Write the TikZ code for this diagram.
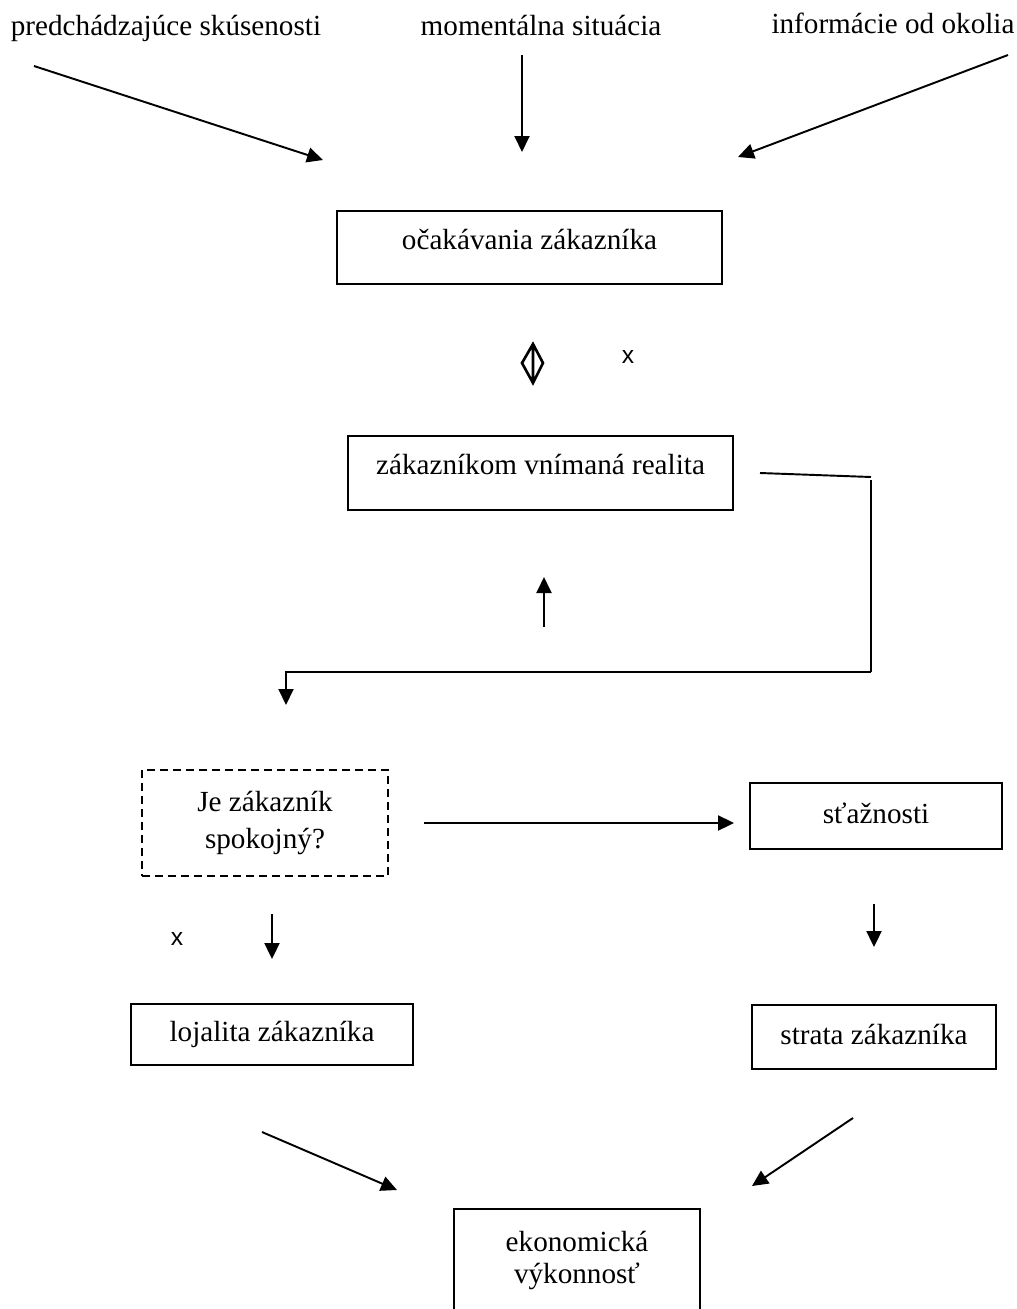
\documentclass[tikz,border=0pt]{standalone}
\usepackage{fontspec}
\setmainfont{Liberation Serif}
\newfontfamily\xfont{Liberation Sans}
\usetikzlibrary{arrows.meta}

\begin{document}
\begin{tikzpicture}[x=0.02cm, y=-0.02cm, line width=1.1pt,
    font=\fontsize{16.6}{19}\selectfont,
    box/.style={draw, inner sep=0pt, text height=11pt, text depth=3pt},
    topbox/.style={box, text depth=9pt},
    twoline/.style={draw, inner sep=0pt, align=center},
    arr/.style={-{Triangle[length=0.32cm, width=0.3cm]}},
    xmark/.style={font=\xfont\fontsize{14}{16}\selectfont}]
\useasboundingbox (0,0) rectangle (1017,1309);
\clip (0,0) rectangle (1017,1309);

% Sources
\node[anchor=base] (pred) at (166,35) {predchádzajúce skúsenosti};
\node[anchor=base] (mom) at (541,35) {momentálna situácia};
\node[anchor=base] (info) at (893,33) {informácie od okolia};

% Boxes
\node[topbox, minimum width=7.7cm, minimum height=1.46cm] (ocak) at (529.5,247.5) {očakávania zákazníka};
\node[topbox, minimum width=7.7cm, minimum height=1.48cm] (real) at (540.5,473) {zákazníkom vnímaná realita};
\node[twoline, dash pattern=on 0.16cm off 0.1cm, minimum width=4.92cm, minimum height=2.12cm] (je) at (265,823) {Je zákazník\\[2pt]spokojný?};
\node[box, minimum width=5.04cm, minimum height=1.32cm] (staz) at (876,816) {sťažnosti};
\node[box, minimum width=5.64cm, minimum height=1.22cm] (loj) at (272,1034.5) {lojalita zákazníka};
\node[box, minimum width=4.88cm, minimum height=1.28cm] (strata) at (874,1037) {strata zákazníka};
\node[twoline, anchor=north, minimum width=4.92cm, minimum height=2.06cm] (ekon) at (577,1208) {ekonomická\\[-1pt]výkonnosť};

% Inputs
\coordinate (p1) at (34,66);
\coordinate (p2) at (323,160);
\coordinate (m1) at (522,55);
\coordinate (m2) at (522,152);
\coordinate (i1) at (1008,55);
\coordinate (i2) at (738,157);
\draw[arr] (p1) -- (p2);
\draw[arr] (m1) -- (m2);
\draw[arr] (i1) -- (i2);

% Comparison
\draw[line width=1.5pt, shift={(533,363)}] (0,-19) -- (10,0) -- (0,20) -- (-11,0) -- cycle (0,-19) -- (0,20);
\node[xmark] (x1) at (628,357) {x};

% Feedback loop
\coordinate (fb1) at (760,473);
\coordinate (fb2) at (871,477);
\coordinate (fb3) at (871,480);
\coordinate (fb4) at (871,672);
\coordinate (fb5) at (286,705);
\draw (fb1) -- (fb2);
\draw (fb3) -- (fb4);
\draw[arr] (fb4) -| (fb5);
\coordinate (up1) at (544,627);
\coordinate (up2) at (544,577);
\draw[arr] (up1) -- (up2);

% Outcomes
\draw[arr, shorten <=0.7cm, shorten >=0.3cm] (je.east) -- (je.east -| staz.west);
\draw[arr, shorten <=0.74cm, shorten >=0.88cm] (loj.north |- je.south) -- (loj.north);
\draw[arr, shorten <=1.08cm, shorten >=1.14cm] (strata.north |- staz.south) -- (strata.north);
\node[xmark] (x2) at (177,939) {x};

% Economic result
\coordinate (l1) at (262,1132);
\coordinate (l2) at (397,1190);
\coordinate (s1) at (853,1118);
\coordinate (s2) at (752,1186);
\draw[arr] (l1) -- (l2);
\draw[arr] (s1) -- (s2);

\end{tikzpicture}
\end{document}
